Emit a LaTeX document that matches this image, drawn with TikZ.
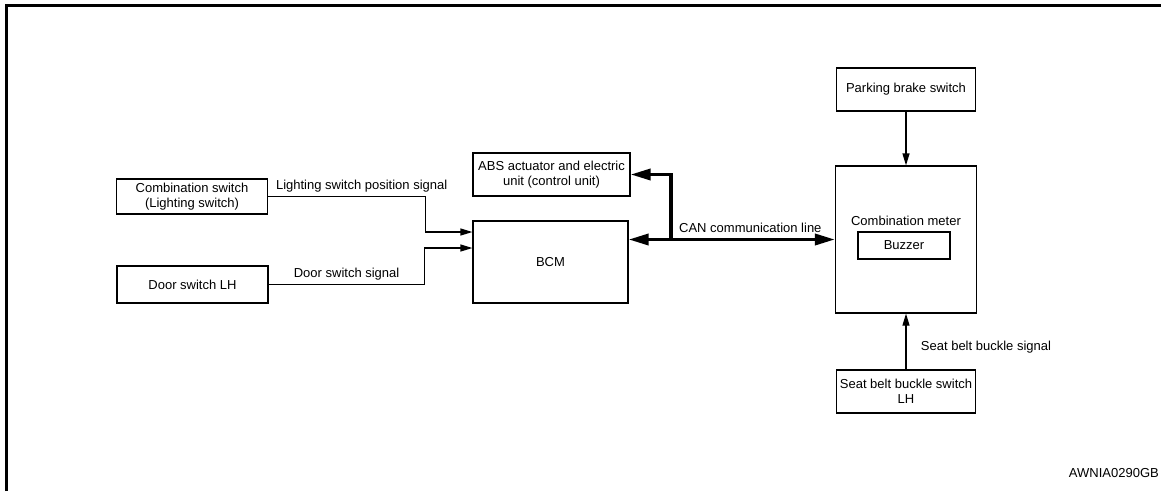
\documentclass[tikz,border=0pt]{standalone}
\usepackage{fontspec}
\setmainfont{Liberation Sans}
\usetikzlibrary{arrows.meta}

\begin{document}
\begin{tikzpicture}[x=1pt, y=-1pt,
        every node/.style={font=\fontsize{13}{15}\selectfont},
        unit/.style={draw, line width=1.2pt, align=center, inner sep=1pt},
        sig/.style={line width=1.2pt, -{Triangle[length=12pt, width=7pt]}},
        can/.style={line width=3.5pt, -{Triangle[length=20pt, width=11pt]}}]
            \clip (0,0) rectangle (1161,491);
            \draw[line width=3pt] (6,491) -- (6,5) -- (1161,5);

            \node[unit, minimum width=151pt, minimum height=35pt] (comb) at (192,196.5) {Combination switch\\(Lighting switch)};
            \node[unit, minimum width=151pt, minimum height=37pt] (door) at (192.5,284.5) {Door switch LH};
            \node[unit, minimum width=157pt, minimum height=43pt] (abs) at (551.5,174.5) {ABS actuator and electric\\unit (control unit)};
            \node[unit, minimum width=155pt, minimum height=82pt] (bcm) at (550.5,262) {BCM};
            \node[unit, minimum width=141pt, minimum height=147pt] (meter) at (906,239.5) {};
            \node (meterlbl) at (906,221) {Combination meter};
            \node[unit, minimum width=92pt, minimum height=27pt] (buzzer) at (904,245.5) {Buzzer};
            \node[unit, minimum width=139pt, minimum height=43pt] (park) at (906,89.5) {Parking brake switch};
            \node[unit, minimum width=139pt, minimum height=43pt] (seat) at (906,391.5) {Seat belt buckle switch\\LH};
            \coordinate (jn) at (671,239.5);

            \draw[sig] (comb.east) -- node[pos=0, anchor=south west, xshift=4pt]{Lighting switch position signal}
                ++(157,0) |- ([yshift=30pt]bcm.west);
            \draw[sig] (door.east) -- node[above]{Door switch signal}
                ++(156,0) |- ([yshift=14pt]bcm.west);
            \draw[can, {Triangle[length=20pt, width=11pt]}-{Triangle[length=20pt, width=11pt]}]
                (bcm.east |- meter.west) -- node[pos=0.59, above, yshift=2pt]{CAN communication line} (meter.west);
            \draw[can] (jn) |- (abs.east);
            \draw[sig] (park) -- (meter);
            \draw[sig] (seat) -- node[pos=0.4, anchor=west, xshift=11pt]{Seat belt buckle signal} (meter);

            \node[anchor=base east, inner sep=0pt] (code) at (1159,477) {AWNIA0290GB};
        \end{tikzpicture}
\end{document}
